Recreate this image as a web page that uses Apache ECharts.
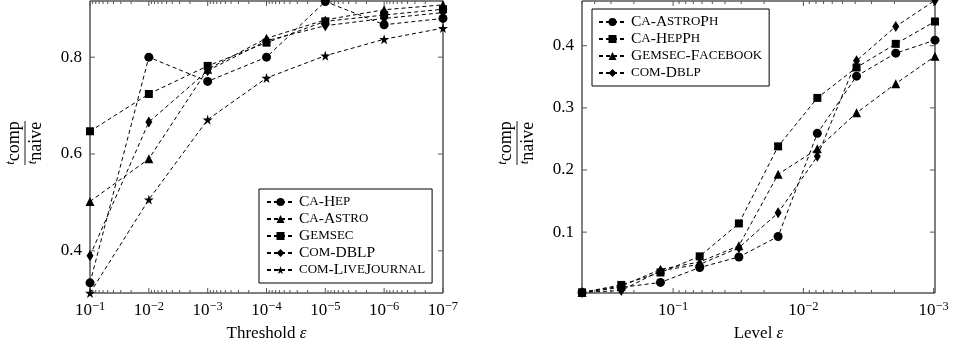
<!DOCTYPE html>
<html>
<head>
<meta charset="utf-8">
<script src="https://cdn.jsdelivr.net/npm/echarts@6/dist/echarts.min.js"></script>
<style>
html, body { margin: 0; padding: 0; background: #fff; }
#chart { width: 953px; height: 347px; }
</style>
</head>
<body>
<div id="chart"></div>
<script>
// left panel: threshold eps
const thresholds = [1e-1, 1e-2, 1e-3, 1e-4, 1e-5, 1e-6, 1e-7];
const thresholdNames = ['Ca-Hep', 'Ca-Astro', 'Gemsec', 'Com-DBLP', 'com-LiveJournal'];
const caHep = [0.334, 0.800, 0.750, 0.800, 0.915, 0.867, 0.880];
const caAstro = [0.502, 0.590, 0.775, 0.839, 0.877, 0.898, 0.908];
const gemsec = [0.647, 0.724, 0.782, 0.830, 0.874, 0.887, 0.899];
const comDblp = [0.390, 0.666, 0.772, 0.834, 0.865, 0.880, 0.892];
const liveJournal = [0.313, 0.506, 0.671, 0.757, 0.803, 0.837, 0.860];
const thresholdTicks = [1e-1, 1e-2, 1e-3, 1e-4, 1e-5, 1e-6, 1e-7];
const leftYTicks = [0.4, 0.6, 0.8];

// right panel: level eps
const levels = [0.5, 0.25, 0.125, 0.0625, 0.03125, 0.015625, 0.0078125, 0.00390625, 0.001953125, 0.0009765625];
const levelNames = ['Ca-AstroPh', 'Ca-HepPh', 'Gemsec-Facebook', 'com-Dblp'];
const caAstroPh = [0.003, 0.011, 0.019, 0.043, 0.060, 0.093, 0.259, 0.351, 0.388, 0.409];
const caHepPh = [0.003, 0.015, 0.035, 0.061, 0.114, 0.238, 0.316, 0.365, 0.403, 0.439];
const gemsecFb = [0.003, 0.013, 0.040, 0.052, 0.078, 0.193, 0.234, 0.292, 0.339, 0.383];
const comDblpLevel = [0.003, 0.006, 0.038, 0.048, 0.075, 0.131, 0.222, 0.376, 0.431, 0.473];
const levelTicks = [1e-1, 1e-2, 1e-3];
const rightYTicks = [0.1, 0.2, 0.3, 0.4];

const FONT = 'Liberation Serif';
const STAR = 'path://M50,0 L61,35 L98,35 L68,57 L79,91 L50,70 L21,91 L32,57 L2,35 L39,35 Z';

// axis extents
const leftX = [9.99e-8, 0.1001], leftY = [0.313, 0.916];
const rightX = [0.000976, 0.5005], rightY = [0.002, 0.472];

// minor log ticks 2..9 x 10^k inside [lo, hi]
const minorTicks = (lo, hi) => {
    let out = [];
    for (let k = -8; k <= 0; k++) {
        for (let m = 2; m <= 9; m++) {
            const v = m * Math.pow(10, k);
            if (v > lo && v < hi) out.push(v);
        }
    }
    return out;
}

// small caps: lowercase runs drawn as smaller capitals
const smallCaps = (name) => {
    return name.replace(/[a-z]+|[^a-z]+/g, (run) => /[a-z]/.test(run) ? '{s|' + run.toUpperCase() + '}' : '{b|' + run + '}');
}

const powLabel = (v) => {
    const e = Math.round(Math.log10(v));
    return '{b|10}{s|\u2212' + Math.abs(e) + '}';
}

const logAxis = (gridIndex, ext, labels, name) => {
    return {
        type: 'log', logBase: 10, gridIndex: gridIndex, position: 'bottom', inverse: true,
        min: ext[0], max: ext[1],
        name: name, nameLocation: 'middle', nameGap: 32,
        nameTextStyle: {
            fontFamily: FONT, fontSize: 17, color: '#000',
            rich: { i: { fontFamily: FONT, fontSize: 17, fontStyle: 'italic', color: '#000' } }
        },
        axisLine: { show: false },
        axisTick: { show: false },
        axisLabel: {
            show: true, customValues: labels, margin: 7, formatter: powLabel,
            rich: {
                b: { fontFamily: FONT, fontSize: 17, color: '#000', lineHeight: 22 },
                s: { fontFamily: FONT, fontSize: 12.5, color: '#000', lineHeight: 10, verticalAlign: 'top' }
            }
        },
        splitLine: { show: false }
    };
}

const valAxis = (gridIndex, ext, ticks) => {
    return {
        type: 'value', gridIndex: gridIndex, position: 'left', min: ext[0], max: ext[1],
        axisLine: { show: false },
        axisTick: { show: false },
        axisLabel: {
            show: true, customValues: ticks, margin: 8, fontFamily: FONT, fontSize: 17, color: '#000',
            formatter: (v) => v.toFixed(1)
        },
        splitLine: { show: false }
    };
}

// ticks on both opposite sides of the frame, pointing inward
const tickSeries = (gi, dir, ticks, len, ext) => {
    return {
        type: 'custom', xAxisIndex: gi, yAxisIndex: gi, silent: true, z: 1, animation: false,
        data: ticks.map((v) => dir === 'x' ? [v, ext[0]] : [ext[0], v]),
        renderItem: (params, api) => {
            const v = api.value(dir === 'x' ? 0 : 1);
            const a = dir === 'x' ? api.coord([v, ext[0]]) : api.coord([ext[0], v]);
            const b = dir === 'x' ? api.coord([v, ext[1]]) : api.coord([ext[1], v]);
            const style = { stroke: '#555', lineWidth: 1 };
            let children;
            if (dir === 'x') {
                const s = Math.sign(b[1] - a[1]);
                children = [
                    { type: 'line', shape: { x1: a[0], y1: a[1], x2: a[0], y2: a[1] + s * len }, style: style },
                    { type: 'line', shape: { x1: b[0], y1: b[1], x2: b[0], y2: b[1] - s * len }, style: style }
                ];
            } else {
                const s = Math.sign(b[0] - a[0]);
                children = [
                    { type: 'line', shape: { x1: a[0], y1: a[1], x2: a[0] + s * len, y2: a[1] }, style: style },
                    { type: 'line', shape: { x1: b[0], y1: b[1], x2: b[0] - s * len, y2: b[1] }, style: style }
                ];
            }
            return { type: 'group', children: children };
        }
    };
}

const makeSeries = (name, xs, ys, symbol, size, gi) => {
    return {
        name: name, type: 'line', xAxisIndex: gi, yAxisIndex: gi, z: 3,
        data: xs.map((x, i) => [x, ys[i]]),
        symbol: symbol, symbolSize: size, showSymbol: true, clip: false,
        lineStyle: { color: '#000', width: 1, type: [4, 3] },
        itemStyle: { color: '#000' },
        emphasis: { disabled: true },
        animation: false
    };
}

const fracRich = {
    t: { fontFamily: FONT, fontSize: 13, fontStyle: 'italic', color: '#000', lineHeight: 20, verticalAlign: 'top' },
    w: { fontFamily: FONT, fontSize: 18, color: '#000', lineHeight: 20 }
};
const fraction = (x, y) => {
    return {
        type: 'group', x: x, y: y, rotation: Math.PI / 2,
        children: [
            { type: 'line', shape: { x1: -22, y1: 0, x2: 22, y2: 0 }, style: { stroke: '#000', lineWidth: 0.9 } },
            { type: 'text', x: 0, y: -1, style: { text: '{t|t}{w|comp}', rich: fracRich, textAlign: 'center', textVerticalAlign: 'bottom' } },
            { type: 'text', x: 0, y: 1, style: { text: '{t|t}{w|naive}', rich: fracRich, textAlign: 'center', textVerticalAlign: 'top' } }
        ]
    };
}

const legendRich = {
    b: { fontFamily: FONT, fontSize: 15.5, color: '#000', lineHeight: 14 },
    s: { fontFamily: FONT, fontSize: 13, color: '#000', lineHeight: 14 }
};
const legendBase = {
    orient: 'vertical', itemGap: 1, itemWidth: 27, itemHeight: 10,
    borderColor: '#000', borderWidth: 1, backgroundColor: '#fff',
    selectedMode: false, formatter: smallCaps,
    textStyle: { fontFamily: FONT, fontSize: 15, color: '#000', lineHeight: 14, rich: legendRich }
};

let option = {
    animation: false,
    backgroundColor: '#fff',
    grid: [
        { left: 90, top: 1, width: 353, height: 292, show: true, borderColor: '#000', borderWidth: 1, backgroundColor: 'transparent' },
        { left: 582, top: 1, width: 353, height: 293, show: true, borderColor: '#000', borderWidth: 1, backgroundColor: 'transparent' }
    ],
    xAxis: [
        logAxis(0, leftX, thresholdTicks, 'Threshold {i|\u03b5}'),
        logAxis(1, rightX, levelTicks, 'Level {i|\u03b5}')
    ],
    yAxis: [
        valAxis(0, leftY, leftYTicks),
        valAxis(1, rightY, rightYTicks)
    ],
    legend: [
        Object.assign({ data: thresholdNames, left: 259, top: 189, padding: [5, 7, 5, 7] }, legendBase),
        Object.assign({ data: levelNames, left: 592, top: 9, padding: [5, 7, 5, 6] }, legendBase)
    ],
    graphic: [fraction(25, 143), fraction(517, 143)],
    series: [
        tickSeries(0, 'x', thresholdTicks, 5, leftY),
        tickSeries(0, 'x', minorTicks(leftX[0], leftX[1]), 3, leftY),
        tickSeries(0, 'y', leftYTicks, 5, leftX),
        tickSeries(1, 'x', levelTicks, 5, rightY),
        tickSeries(1, 'x', minorTicks(rightX[0], rightX[1]), 3, rightY),
        tickSeries(1, 'y', rightYTicks, 5, rightX),
        makeSeries(thresholdNames[0], thresholds, caHep, 'circle', 9, 0),
        makeSeries(thresholdNames[1], thresholds, caAstro, 'triangle', 9, 0),
        makeSeries(thresholdNames[2], thresholds, gemsec, 'rect', 8, 0),
        makeSeries(thresholdNames[3], thresholds, comDblp, 'diamond', [7, 11], 0),
        makeSeries(thresholdNames[4], thresholds, liveJournal, STAR, 10, 0),
        makeSeries(levelNames[0], levels, caAstroPh, 'circle', 9, 1),
        makeSeries(levelNames[1], levels, caHepPh, 'rect', 8, 1),
        makeSeries(levelNames[2], levels, gemsecFb, 'triangle', 9, 1),
        makeSeries(levelNames[3], levels, comDblpLevel, 'diamond', [7, 11], 1)
    ]
};

const chartDom = document.getElementById('chart');
const myChart = echarts.init(chartDom, null, { renderer: 'canvas' });
myChart.setOption(option);
</script>
</body>
</html>
